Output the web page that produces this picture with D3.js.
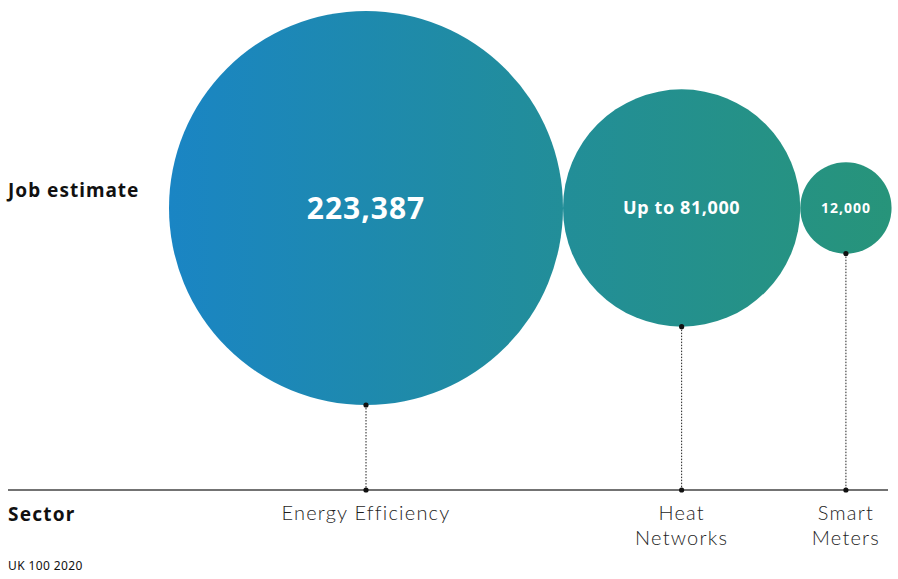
<!DOCTYPE html>
<html>
<head>
<meta charset="utf-8">
<script src="https://cdn.jsdelivr.net/npm/d3@7"></script>
<style>
  html, body { margin: 0; padding: 0; background: #fff; }
  svg { display: block; }
</style>
</head>
<body>
<script>
// Job estimates by sector
const sectors = ["Energy Efficiency", "Heat Networks", "Smart Meters"];
const sectorLines = [["Energy Efficiency"], ["Heat", "Networks"], ["Smart", "Meters"]];
const jobs = [223387, 81000, 12000];
const jobLabels = ["223,387", "Up to 81,000", "12,000"];

const W = 898, H = 579;
const cy = 208;          // circle centre line
const baseY = 490;       // sector axis line
const startX = 169;      // left edge of first bubble

const svg = d3.select("body").append("svg")
  .attr("width", W).attr("height", H);

const r = d3.scaleSqrt().domain([0, d3.max(jobs)]).range([0, 197]);

// lay bubbles side by side, touching
let xPos = startX;
const nodes = jobs.map((v, i) => {
  const rad = r(v);
  const cx = xPos + rad;
  xPos += 2 * rad;
  return { name: sectors[i], lines: sectorLines[i], value: v, label: jobLabels[i], r: rad, cx };
});

const defs = svg.append("defs");
const grad = defs.append("linearGradient")
  .attr("id", "bubbleGrad")
  .attr("gradientUnits", "userSpaceOnUse")
  .attr("x1", startX).attr("x2", xPos).attr("y1", 0).attr("y2", 0);
grad.append("stop").attr("offset", "0%").attr("stop-color", "#1a85c4");
grad.append("stop").attr("offset", "55%").attr("stop-color", "#228e98");
grad.append("stop").attr("offset", "100%").attr("stop-color", "#27947a");

// axis line
svg.append("line")
  .attr("x1", 8).attr("x2", 888)
  .attr("y1", baseY).attr("y2", baseY)
  .attr("stroke", "#444").attr("stroke-width", 1.5);

// bubbles
svg.selectAll("circle.bubble").data(nodes).join("circle")
  .attr("class", "bubble")
  .attr("cx", d => d.cx).attr("cy", cy).attr("r", d => d.r)
  .attr("fill", "url(#bubbleGrad)");

// dotted connectors
svg.selectAll("line.conn").data(nodes).join("line")
  .attr("class", "conn")
  .attr("x1", d => d.cx).attr("x2", d => d.cx)
  .attr("y1", d => cy + d.r).attr("y2", baseY)
  .attr("stroke", "#222").attr("stroke-width", 1)
  .attr("stroke-dasharray", "1.5,1.5");

svg.selectAll("circle.dotTop").data(nodes).join("circle")
  .attr("class", "dotTop")
  .attr("cx", d => d.cx).attr("cy", d => cy + d.r).attr("r", 2.6)
  .attr("fill", "#111");
svg.selectAll("circle.dotBase").data(nodes).join("circle")
  .attr("class", "dotBase")
  .attr("cx", d => d.cx).attr("cy", baseY).attr("r", 2.6)
  .attr("fill", "#111");

// value labels
const valSizes = [30, 18, 14];
const valSpacing = ["1px", "0.6px", "1px"];
svg.selectAll("text.val").data(nodes).join("text")
  .attr("class", "val")
  .attr("x", d => d.cx).attr("y", cy)
  .attr("dy", "0.35em")
  .attr("text-anchor", "middle")
  .attr("fill", "#fff")
  .attr("font-family", "'Noto Sans', Lato, sans-serif")
  .attr("font-weight", 700)
  .attr("letter-spacing", (d, i) => valSpacing[i])
  .attr("font-size", (d, i) => valSizes[i])
  .text(d => d.label);

// sector labels
const catG = svg.selectAll("text.cat").data(nodes).join("text")
  .attr("class", "cat")
  .attr("text-anchor", "middle")
  .attr("fill", "#1e1e1e")
  .attr("font-family", "Lato, 'Noto Sans', sans-serif")
  .attr("font-weight", 300)
  .attr("font-size", 20)
  .attr("letter-spacing", "1.2px");
catG.selectAll("tspan").data(d => d.lines.map(l => ({ l, cx: d.cx })))
  .join("tspan")
  .attr("x", d => d.cx)
  .attr("y", (d, i) => 520 + i * 25)
  .text(d => d.l);

// row titles
const title = (t, y, size, weight, ls) => svg.append("text")
  .attr("x", 8).attr("y", y)
  .attr("fill", "#111")
  .attr("font-family", "'Noto Sans', Lato, sans-serif")
  .attr("font-weight", weight)
  .attr("font-size", size)
  .attr("letter-spacing", ls)
  .text(t);
title("Job estimate", 197, 19, 700, "1px");
title("Sector", 521, 19, 700, "1.2px");
title("UK 100 2020", 570, 12, 400, "0.4px");
</script>
</body>
</html>
